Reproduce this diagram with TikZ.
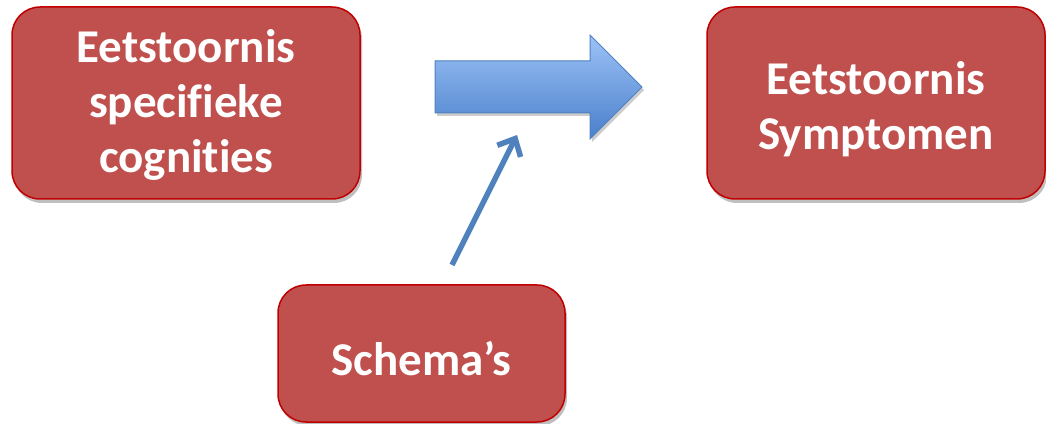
\documentclass[tikz,border=0pt]{standalone}
\usepackage{fontspec}
\setmainfont[Ligatures=NoCommon]{Carlito}
\usetikzlibrary{arrows.meta,shadows}
\definecolor{boxred}{HTML}{C0504D}
\definecolor{boxborder}{HTML}{C00000}
\definecolor{arrowblue}{HTML}{4F81BD}
\definecolor{arrowtop}{HTML}{9DC3F7}
\definecolor{arrowbot}{HTML}{4A7FCB}
\begin{document}
\begin{tikzpicture}[x=1pt,y=1pt,
  redbox/.style={draw=boxborder, line width=1.5pt, fill=boxred, rounded corners=28pt,
    inner sep=0pt,
    drop shadow={shadow xshift=2pt, shadow yshift=-4pt, opacity=0.25, fill=black}},
  boxtext/.style={text=white, font=\bfseries\fontsize{47}{55}\selectfont, align=center,
    inner sep=0pt},
  thinarrow/.style={draw=arrowblue, line width=5.5pt,
    -{Straight Barb[length=14pt, width=26pt, line width=5.5pt]}}
]
\useasboundingbox (0,0) rectangle (1046,423);
\node[redbox, minimum width=348pt, minimum height=192pt] (cog) at (186,320) {};
\node[boxtext] (cogt) at (186,318) {Eetstoornis\\specifieke\\cognities};
\node[redbox, minimum width=338pt, minimum height=192pt] (sym) at (876,320) {};
\node[boxtext] (symt) at (876,314) {Eetstoornis\\Symptomen};
\node[redbox, minimum width=287pt, minimum height=137pt] (sch) at (421.5,69.5) {};
\node[boxtext] (scht) at (421.5,64) {Schema’s};
% block arrow
\draw[arrowblue, line width=1pt, top color=arrowtop, bottom color=arrowbot,
  drop shadow={shadow xshift=2pt, shadow yshift=-3pt, opacity=0.2, fill=black}]
  (435,362) -- (590,362) -- (590,388) -- (642,336) -- (590,284) -- (590,310) -- (435,310) -- cycle;
\coordinate (ts) at (452,158);
\coordinate (te) at (517,288);
\draw[thinarrow] (ts) -- (te);
\end{tikzpicture}
\end{document}
